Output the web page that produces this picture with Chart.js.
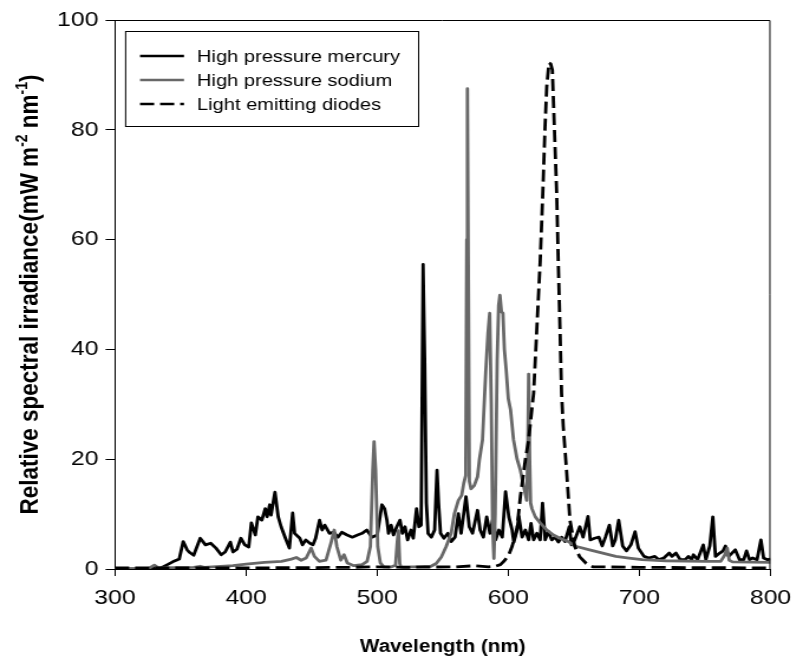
<!DOCTYPE html>
<html>
<head>
<meta charset="utf-8">
<script src="https://cdn.jsdelivr.net/npm/chart.js@4.4.0/dist/chart.umd.min.js"></script>
<style>
  html, body { margin: 0; padding: 0; background: #fff; }
  #chart { display: block; }
</style>
</head>
<body>
<canvas id="chart" width="680" height="668" style="width:803px;height:668px"></canvas>
<script>
'use strict';

// the figure is a bit wider than tall in its lettering, so draw on a narrower canvas and stretch it
const S = 803 / 680;
const px = v => v / S;

const xTicks = [300, 400, 500, 600, 700, 800];
const yTicks = [0, 20, 40, 60, 80, 100];

// High pressure mercury
const hgWl = [300, 320, 335, 340, 344, 349, 352, 355, 357, 360, 365, 369, 373, 377, 381, 384, 388, 390, 393, 396, 399, 402, 404, 407, 409, 412, 414.6, 416, 418, 419, 422, 424.5, 426.7, 430, 433, 435.5, 437, 441, 443, 445.5, 448.6, 451, 453, 456, 458, 460, 463.6, 467, 470, 473, 477, 481, 485, 488.5, 492, 496, 500, 503.6, 505.6, 507.4, 508.6, 510.6, 512.4, 514.9, 517.4, 519.2, 521.2, 523.2, 525.7, 527.5, 530, 531.8, 533.5, 535, 536.2, 537.5, 538.8, 541.3, 543.8, 545.6, 546.8, 548.3, 550.9, 553.9, 556.4, 559.4, 561.9, 564, 567.7, 570.2, 572.7, 576.5, 578.5, 581, 583.5, 586, 588.6, 590.3, 592.8, 595.4, 597.9, 600.4, 602.9, 604.2, 606.7, 608, 610.5, 613, 615.5, 617.3, 619.3, 621.8, 624.3, 626.1, 628.1, 630.6, 633.1, 635.6, 638.2, 640.7, 643.2, 646.5, 648.2, 650.7, 654.5, 657, 660.8, 662.5, 665.8, 669.1, 671.6, 674.1, 677.1, 679.6, 681.6, 684.2, 687.2, 690.2, 693.5, 696.7, 699.2, 703.5, 707.2, 711.8, 714.8, 718.6, 722.8, 724.8, 727.9, 731.1, 734.9, 737.4, 739.9, 741.2, 744.4, 748.7, 750.7, 753.7, 756, 758, 761.3, 763.8, 765.6, 768.1, 770.6, 773.1, 776.4, 779.6, 781.7, 784, 786.4, 789.7, 792.7, 794.7, 797.7, 800];
const hgVal = [0, 0, 0.2, 0.8, 1.3, 1.8, 5, 3.5, 3, 2.5, 5.6, 4.4, 4.7, 3.8, 2.6, 3.1, 4.9, 3.1, 3.6, 5.6, 4.4, 4.0, 8.4, 6.2, 9.5, 8.9, 11, 9.5, 11.7, 9.8, 14, 9.5, 7.7, 5.6, 3.8, 10.2, 6.5, 5.6, 4.4, 5.3, 4.7, 4.4, 5.6, 8.9, 7.1, 8, 6.5, 6.7, 5.8, 6.7, 6.2, 5.8, 6.2, 6.5, 7.1, 5.8, 6.2, 11.7, 11.0, 8.9, 6.5, 8.0, 6.2, 7.7, 8.9, 6.5, 7.7, 5.3, 7.1, 5.6, 11.0, 7.7, 8, 55.5, 38, 12, 6.5, 5.8, 7.1, 18, 12, 6.5, 5.6, 6.5, 5, 5.8, 10.1, 6.5, 13.2, 7.7, 6.5, 10.7, 7.1, 5.8, 9.5, 6.5, 9.5, 5.3, 7.1, 5.8, 14.1, 9.5, 7.1, 4.9, 7.1, 9.6, 5.8, 7.1, 5.3, 8.3, 5.3, 6.5, 5.3, 12.0, 5.3, 6.8, 5.3, 5.8, 4.9, 5.8, 5.0, 7.7, 4.4, 5.3, 7.7, 5.8, 9.6, 5.3, 5.6, 5.8, 4.2, 5.8, 8.0, 4.2, 5.3, 8.9, 4.2, 3.3, 4.4, 6.8, 3.8, 2.3, 2.0, 2.3, 1.7, 2.0, 2.9, 2.3, 2.9, 1.7, 1.7, 2.3, 1.7, 2.6, 1.7, 4.4, 1.7, 4.2, 9.5, 2.3, 2.9, 3.3, 4.2, 2.3, 2.9, 3.5, 1.7, 1.7, 3.3, 1.7, 2.0, 1.7, 5.3, 2.0, 1.7, 1.8];

// High pressure sodium
const naWl = [300, 325, 330, 333, 360, 365, 368, 390, 400, 414, 427, 434.5, 438.3, 442, 445.8, 449.6, 452.1, 455.9, 460.9, 464.7, 467.2, 469.2, 472.2, 474.7, 477.2, 482.2, 488.5, 492.3, 494.8, 496.6, 497.6, 498.8, 500.4, 502.4, 505, 511, 514, 515.3, 516.2, 517.2, 518, 528, 541, 545, 548.9, 552.6, 556.4, 558.9, 561.9, 564.4, 566, 567.5, 568.3, 568.8, 569.4, 570.3, 571.5, 574, 576.5, 578, 580.3, 582.8, 584.5, 585.8, 587, 588, 589, 590, 591.5, 592.6, 593.6, 594.8, 595.9, 597, 598.4, 600, 601.7, 604, 606.7, 609.2, 611.8, 614, 614.8, 615.5, 616.3, 617, 618, 620.6, 624.3, 629.4, 634.4, 639.4, 645.7, 652, 662, 672, 682, 692, 702, 720, 750, 762, 765, 767, 768.5, 771, 800];
const naVal = [0, 0, 0.7, 0.2, 0.3, 0.5, 0.3, 0.6, 0.9, 1.2, 1.4, 1.8, 2.1, 1.6, 2.0, 3.8, 2.3, 1.4, 1.6, 4.7, 7.1, 4.1, 1.6, 2.6, 1.1, 0.6, 0.8, 1.4, 4.1, 18, 23.2, 18, 4.1, 1.1, 0.4, 0.4, 0.7, 5, 7, 1, 0.4, 0.4, 0.5, 1.0, 2.2, 4.1, 6.5, 10.1, 12.5, 13.4, 15.6, 17, 60, 87.5, 60, 16, 14.6, 15.2, 16.8, 20, 23.5, 36, 43, 46.6, 30, 8, 1.9, 10, 38, 48, 49.9, 46.8, 46.6, 40, 36.2, 31, 29, 23.5, 20, 18, 15, 12.5, 20, 35.5, 20, 12, 11, 9.5, 8.4, 7.1, 6.2, 5.6, 5.0, 4.1, 3.5, 2.9, 2.3, 2.0, 1.7, 1.5, 1.4, 1.4, 2.5, 3.8, 1.6, 1.3, 1.2];

// Light emitting diodes
const ledWl = [300, 400, 480, 500, 520, 560, 575, 585, 590, 594, 597, 600.4, 603, 606.7, 609.2, 613, 615.5, 617, 619.3, 621.8, 624.3, 626.3, 628, 629.3, 631, 632.3, 633.6, 635.1, 636.9, 638.1, 639.4, 640.6, 641.9, 644.4, 647, 650.7, 654.5, 659.5, 664.5, 700, 800];
const ledVal = [0.2, 0.2, 0.3, 0.4, 0.3, 0.4, 0.6, 0.4, 0.5, 0.8, 1.5, 2.6, 4.2, 7.5, 13.2, 19.9, 23.5, 27, 32, 44, 56, 68.5, 80.5, 87.8, 92.2, 92, 90.9, 80.5, 68.5, 56, 44, 32, 26, 18, 8.9, 4.1, 2.2, 1.0, 0.4, 0.3, 0.2];

const seriesNames = ['High pressure mercury', 'High pressure sodium', 'Light emitting diodes'];

const pts = (xs, ys) => xs.map((x, i) => ({x: x, y: ys[i]}));
const FONT = '"Liberation Sans", Arial, sans-serif';

const decor = {
  id: 'decor',
  afterDraw(chart) {
    const ctx = chart.ctx;
    const a = chart.chartArea;
    ctx.save();
    // frame round the plot
    ctx.strokeStyle = '#000';
    ctx.lineWidth = 1;
    ctx.beginPath();
    ctx.moveTo(a.left, a.top + 0.5);
    ctx.lineTo(a.right - 0.5, a.top + 0.5);
    ctx.lineTo(a.right - 0.5, a.bottom);
    ctx.stroke();

    // legend
    ctx.strokeRect(px(125) + 0.5, 31.5, px(418) - px(125), 95);
    chart.data.datasets.slice().sort((p, q) => p.legendIndex - q.legendIndex).forEach((ds, i) => {
      const y = 56 + i * 24;
      ctx.beginPath();
      ctx.setLineDash(ds.borderDash || []);
      ctx.lineWidth = 2.5;
      ctx.strokeStyle = ds.borderColor;
      ctx.moveTo(px(140), y);
      ctx.lineTo(px(184), y);
      ctx.stroke();
      ctx.setLineDash([]);
      ctx.fillStyle = '#000';
      ctx.font = '17px ' + FONT;
      ctx.textBaseline = 'middle';
      ctx.textAlign = 'left';
      ctx.fillText(ds.label, px(197), y + 1);
    });

    // y axis title with superscripts
    const parts = [['Relative spectral irradiance(mW m', 0], ['-2', 1], [' nm', 0], ['-1', 1], [')', 0]];
    const big = 'bold 22.5px ' + FONT, small = 'bold 14px ' + FONT;
    let total = 0;
    parts.forEach(p => { ctx.font = p[1] ? small : big; total += ctx.measureText(p[0]).width; });
    ctx.translate(px(31), (a.top + a.bottom) / 2);
    ctx.rotate(-Math.PI / 2);
    ctx.textBaseline = 'middle';
    ctx.textAlign = 'left';
    let x = -total / 2;
    parts.forEach(p => {
      ctx.font = p[1] ? small : big;
      ctx.fillText(p[0], x, p[1] ? -7 : 0);
      x += ctx.measureText(p[0]).width;
    });
    ctx.restore();
  }
};

new Chart(document.getElementById('chart'), {
  type: 'line',
  data: {
    datasets: [
      {label: seriesNames[0], legendIndex: 0, data: pts(hgWl, hgVal), borderColor: '#000000', borderWidth: 2.8, order: 3},
      {label: seriesNames[1], legendIndex: 1, data: pts(naWl, naVal), borderColor: '#686868', borderWidth: 2.8, order: 2},
      {label: seriesNames[2], legendIndex: 2, data: pts(ledWl, ledVal), borderColor: '#000000', borderWidth: 2.8, borderDash: [12, 5], order: 1}
    ]
  },
  options: {
    responsive: false,
    animation: false,
    events: [],
    layout: {padding: {left: 0, right: 680 - px(778), top: 20, bottom: 0}},
    elements: {point: {radius: 0}, line: {tension: 0, fill: false, borderJoinStyle: 'round'}},
    plugins: {legend: {display: false}, tooltip: {enabled: false}},
    scales: {
      x: {
        type: 'linear',
        min: 300,
        max: 800,
        afterBuildTicks: s => { s.ticks = xTicks.map(v => ({value: v})); },
        afterFit: s => { s.height = 99; },
        ticks: {color: '#000', font: {family: FONT, size: 21}, padding: 10, maxRotation: 0},
        grid: {drawOnChartArea: false, color: '#000', tickColor: '#000', tickLength: 7},
        border: {color: '#000', width: 1},
        title: {display: true, text: 'Wavelength (nm)', color: '#000', font: {family: FONT, size: 17.5, weight: 'bold'}, padding: {top: 0, bottom: 10}}
      },
      y: {
        min: 0,
        max: 100,
        afterBuildTicks: s => { s.ticks = yTicks.map(v => ({value: v})); },
        afterFit: s => { s.width = px(115); },
        ticks: {color: '#000', font: {family: FONT, size: 21}, padding: 6},
        grid: {drawOnChartArea: false, color: '#000', tickColor: '#000', tickLength: 8},
        border: {color: '#000', width: 1}
      }
    }
  },
  plugins: [decor]
});
</script>
</body>
</html>
